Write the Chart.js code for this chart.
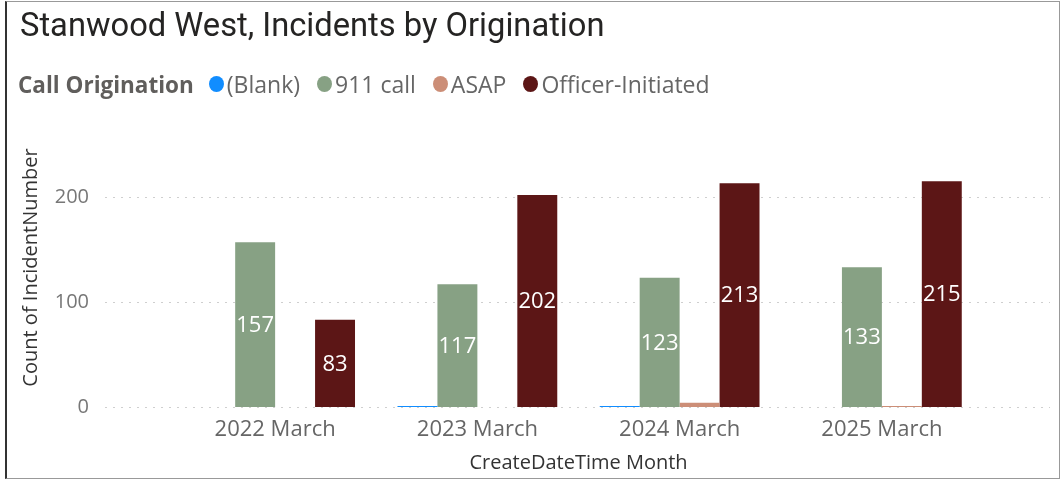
<!DOCTYPE html>
<html>
<head>
<meta charset="utf-8">
<script src="https://cdn.jsdelivr.net/npm/chart.js@4.4.1/dist/chart.umd.min.js"></script>
<style>
  html, body { margin: 0; padding: 0; background: #fff; }
  #frame {
    position: absolute; left: 5px; top: 1px; width: 1052px; height: 476px;
    border: 1px solid #999; border-left: 2px solid #333;
  }
  #title {
    position: absolute; left: 20px; top: 6px;
    font-family: Roboto, sans-serif; font-size: 32.7px; color: #252423;
    white-space: nowrap;
  }
  #legend {
    position: absolute; left: 18px; top: 68px; height: 32px;
    font-family: "Open Sans", sans-serif; font-size: 23px; color: #666;
    display: flex; align-items: center; white-space: nowrap;
  }
  #legend b { color: #605E5C; margin-right: 15px; font-size: 22.5px; }
  #legend .item { display: flex; align-items: center; margin-right: 17px; }
  #legend .dot { width: 15px; height: 16px; border-radius: 50%; margin-right: 3px; }
  #wrap { position: absolute; left: 0; top: 0; width: 1061px; height: 480px; }
</style>
</head>
<body>
<div id="frame"></div>
<div id="wrap"><canvas id="incidentChart"></canvas></div>
<div id="title">Stanwood West, Incidents by Origination</div>
<div id="legend"></div>
<script>
// Chart data
const categories = ['2022 March', '2023 March', '2024 March', '2025 March'];
const seriesNames = ['(Blank)', '911 call', 'ASAP', 'Officer-Initiated'];
const blankValues = [0, 1, 1, 0];
const call911Values = [157, 117, 123, 133];
const asapValues = [0, 0, 4, 1];
const officerValues = [83, 202, 213, 215];
const yTickValues = [0, 100, 200];
const seriesColors = ['#118DFF', '#87A184', '#CC8E77', '#5C1616'];
const yAxisTitle = 'Count of IncidentNumber';

// Legend (HTML)
const legendEl = document.getElementById('legend');
legendEl.innerHTML = '<b>Call Origination</b>' + seriesNames.map((name, i) =>
    `<span class="item"><span class="dot" style="background:${seriesColors[i]}"></span>${name}</span>`
).join('');

// Dotted gridlines spanning wider than the plot area, like Power BI
const gridPlugin = {
    id: 'wideGrid',
    beforeDatasetsDraw(chart) {
        const { ctx } = chart;
        const y = chart.scales.y;
        ctx.save();
        ctx.strokeStyle = '#CFCFCF';
        ctx.lineWidth = 1;
        ctx.setLineDash([2, 6]);
        yTickValues.forEach(v => {
            const py = Math.round(y.getPixelForValue(v)) + 0.5;
            ctx.beginPath();
            ctx.moveTo(105, py);
            ctx.lineTo(1050, py);
            ctx.stroke();
        });
        ctx.restore();
    }
};

// Value labels inside the big bars + y axis title (sits a bit above centre in Power BI)
const labelPlugin = {
    id: 'barLabels',
    afterDatasetsDraw(chart) {
        const { ctx, chartArea } = chart;
        ctx.save();
        ctx.fillStyle = '#FFFFFF';
        ctx.font = '22px "Open Sans", sans-serif';
        ctx.textAlign = 'center';
        ctx.textBaseline = 'middle';
        [1, 3].forEach(di => {
            const meta = chart.getDatasetMeta(di);
            meta.data.forEach((bar, i) => {
                const v = chart.data.datasets[di].data[i];
                if (v < 20) return;
                ctx.fillText(String(v), bar.x, (bar.y + bar.base) / 2 + 1);
            });
        });

        ctx.translate(31, (chartArea.top + chartArea.bottom) / 2 - 24);
        ctx.rotate(-Math.PI / 2);
        ctx.fillStyle = '#333';
        ctx.font = '20px "Open Sans", sans-serif';
        ctx.fillText(yAxisTitle, 0, 0);
        ctx.restore();
    }
};

const ctx = document.getElementById('incidentChart').getContext('2d');
const incidentChart = new Chart(ctx, {
    type: 'bar',
    data: {
        labels: categories,
        datasets: [
            { label: seriesNames[0], data: blankValues, backgroundColor: seriesColors[0] },
            { label: seriesNames[1], data: call911Values, backgroundColor: seriesColors[1] },
            { label: seriesNames[2], data: asapValues, backgroundColor: seriesColors[2] },
            { label: seriesNames[3], data: officerValues, backgroundColor: seriesColors[3] }
        ]
    },
    options: {
        responsive: true,
        maintainAspectRatio: false,
        animation: false,
        datasets: {
            bar: { categoryPercentage: 0.79, barPercentage: 1.0 }
        },
        layout: {
            padding: { top: 176, left: 6, right: 78, bottom: 0 }
        },
        plugins: {
            legend: { display: false },
            tooltip: { enabled: false }
        },
        scales: {
            x: {
                afterFit: axis => { axis.height = 73; },
                grid: { display: false, drawTicks: false },
                border: { display: false },
                ticks: {
                    color: '#666',
                    font: { family: 'Open Sans', size: 22 },
                    padding: 10
                },
                title: {
                    display: true,
                    text: 'CreateDateTime Month',
                    color: '#333',
                    font: { family: 'Open Sans', size: 20 },
                    padding: { top: 0, bottom: 5 }
                }
            },
            y: {
                min: 0,
                max: 220,
                afterFit: axis => {
                    axis.width = 168;
                    axis.paddingTop = 12;
                    axis.paddingBottom = 12;
                },
                afterBuildTicks: axis => {
                    axis.ticks = yTickValues.map(v => ({ value: v }));
                },
                grid: { display: false, drawTicks: false },
                border: { display: false },
                ticks: {
                    color: '#777',
                    font: { family: 'Open Sans', size: 20 },
                    padding: 85
                }
            }
        }
    },
    plugins: [gridPlugin, labelPlugin]
});
</script>
</body>
</html>
